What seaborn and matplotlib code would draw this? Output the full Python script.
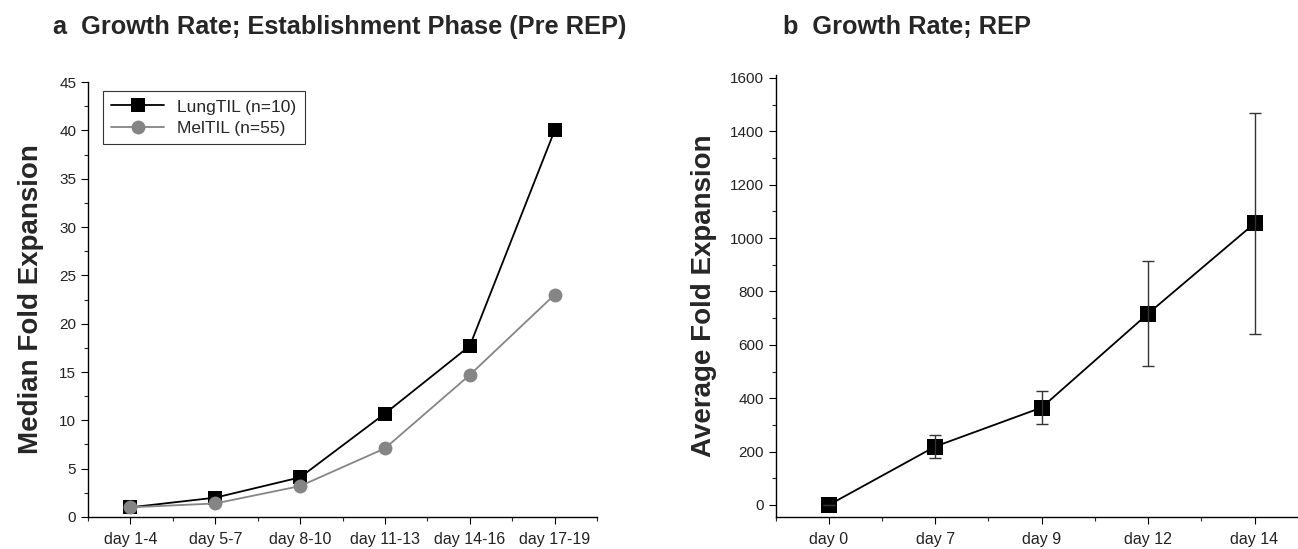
import matplotlib.pyplot as plt
import matplotlib.ticker as mticker
import pandas as pd
import seaborn as sns

# Dados do painel a
fases = ['day 1-4', 'day 5-7', 'day 8-10', 'day 11-13', 'day 14-16', 'day 17-19']
lung_til = [1.0, 2.0, 4.1, 10.7, 17.7, 40.0]
mel_til = [1.0, 1.4, 3.2, 7.1, 14.7, 23.0]

# Dados do painel b
dias_rep = ['day 0', 'day 7', 'day 9', 'day 12', 'day 14']
media_rep = [0, 219, 365, 717, 1055]
erro_rep = [0, 42, 63, 197, 414]

sns.set_theme(style='ticks')
plt.rcParams['font.family'] = ['Liberation Sans', 'DejaVu Sans']

fig = plt.figure(figsize=(12.98, 5.49), dpi=100)
ax1 = fig.add_axes([0.0678, 0.0583, 0.3922, 0.7923])
ax2 = fig.add_axes([0.5975, 0.0583, 0.4100, 0.8051])

# Painel a
df_a = pd.DataFrame({
    'pos': list(range(len(fases))) * 2,
    'valor': lung_til + mel_til,
    'grupo': ['LungTIL (n=10)'] * len(fases) + ['MelTIL (n=55)'] * len(fases),
})
sns.lineplot(data=df_a, x='pos', y='valor', hue='grupo', style='grupo',
             palette=['black', '#858585'], markers=['s', 'o'], dashes=False,
             markersize=10, linewidth=1.3, markeredgewidth=0, ax=ax1)
ax1.set_xlim(-0.5, 5.5)
ax1.set_ylim(0, 45)
ax1.set_xticks(range(len(fases)))
ax1.set_xticklabels(fases, fontsize=11.5)
ax1.xaxis.set_minor_locator(mticker.FixedLocator([i + 0.5 for i in range(-1, 6)]))
ax1.yaxis.set_major_locator(mticker.MultipleLocator(5))
ax1.yaxis.set_minor_locator(mticker.MultipleLocator(2.5))
ax1.set_xlabel('')
ax1.set_ylabel('Median Fold Expansion', fontsize=20, fontweight='bold')
ax1.yaxis.set_label_coords(-0.086, 0.5)
leg = ax1.legend(loc='upper left', bbox_to_anchor=(0.012, 1.0), fontsize=12.5,
                 frameon=True, fancybox=False, edgecolor='black', handlelength=3,
                 borderpad=0.5, labelspacing=0.35)
leg.get_frame().set_linewidth(0.8)
fig.text(53 / 1298, 1 - 27 / 549, 'a  Growth Rate; Establishment Phase (Pre REP)',
         fontsize=18.3, fontweight='bold', va='center', ha='left')

# Painel b
df_b = pd.DataFrame({'pos': range(len(dias_rep)), 'valor': media_rep, 'erro': erro_rep})
sns.lineplot(data=df_b, x='pos', y='valor', color='black', marker='s',
             markersize=11, linewidth=1.3, markeredgewidth=0, ax=ax2)
ax2.errorbar(df_b['pos'], df_b['valor'], yerr=df_b['erro'], fmt='none',
             ecolor='#333333', elinewidth=1, capsize=4, capthick=1)
ax2.set_xlim(-0.5, 4.5)
ax2.set_ylim(-45, 1611)
ax2.set_xticks(range(len(dias_rep)))
ax2.set_xticklabels(dias_rep, fontsize=11.5)
ax2.xaxis.set_minor_locator(mticker.FixedLocator([i + 0.5 for i in range(-1, 5)]))
ax2.yaxis.set_major_locator(mticker.MultipleLocator(200))
ax2.yaxis.set_minor_locator(mticker.MultipleLocator(100))
ax2.set_xlabel('')
ax2.set_ylabel('Average Fold Expansion', fontsize=20, fontweight='bold')
ax2.yaxis.set_label_coords(-0.11, 0.5)
fig.text(783 / 1298, 1 - 27 / 549, 'b  Growth Rate; REP',
         fontsize=18.3, fontweight='bold', va='center', ha='left')

for ax in (ax1, ax2):
    sns.despine(ax=ax)
    ax.tick_params(axis='both', which='major', direction='out', length=5,
                   width=0.8, colors='black', labelcolor='#222222')
    ax.tick_params(axis='both', which='minor', direction='out', length=3, width=0.8)
    ax.tick_params(axis='y', labelsize=11)
    ax.tick_params(axis='x', pad=6)
    for s in ('left', 'bottom'):
        ax.spines[s].set_linewidth(1)
        ax.spines[s].set_color('black')

fig.savefig('out.png', dpi=100)
